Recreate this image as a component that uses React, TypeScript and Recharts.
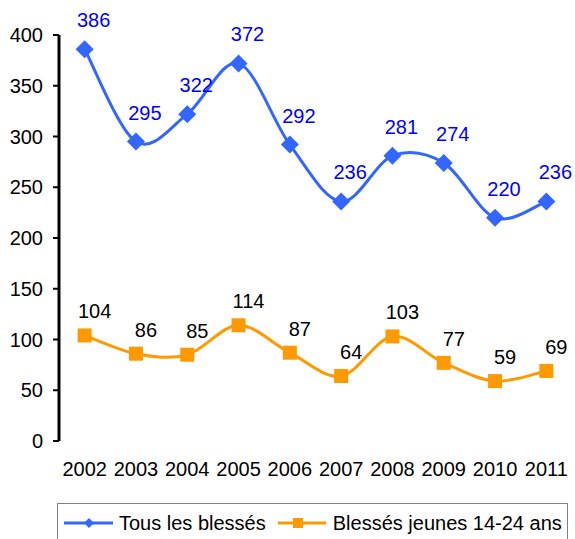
import React from 'react';
import { LineChart, Line, XAxis, YAxis, LabelList, Legend } from 'recharts';

const years = [2002, 2003, 2004, 2005, 2006, 2007, 2008, 2009, 2010, 2011];
const tousLesBlesses = [386, 295, 322, 372, 292, 236, 281, 274, 220, 236];
const blessesJeunes = [104, 86, 85, 114, 87, 64, 103, 77, 59, 69];
const yTicks = [0, 50, 100, 150, 200, 250, 300, 350, 400];
const boundaryTicks = [2001.5, 2002.5, 2003.5, 2004.5, 2005.5, 2006.5, 2007.5, 2008.5, 2009.5, 2010.5, 2011.5];
const seriesNames = ['Tous les blessés', 'Blessés jeunes 14-24 ans'];

const data = years.map((year, i) => ({ year, tous: tousLesBlesses[i], jeunes: blessesJeunes[i] }));

const FONT = '"Liberation Sans", Arial, sans-serif';
const FS = 20;
const BLUE = '#3366FF';
const ORANGE = '#FF9900';

const excelSmooth = (context: any) => {
  let pts: number[][] = [];
  return {
    areaStart() {},
    areaEnd() {},
    lineStart() {
      pts = [];
    },
    point(x: number, y: number) {
      pts.push([+x, +y]);
    },
    lineEnd() {
      const n = pts.length;
      if (n === 0) return;
      context.moveTo(pts[0][0], pts[0][1]);
      for (let i = 0; i < n - 1; i++) {
        const p0 = pts[Math.max(i - 1, 0)];
        const p1 = pts[i];
        const p2 = pts[i + 1];
        const p3 = pts[Math.min(i + 2, n - 1)];
        context.bezierCurveTo(
          p1[0] + (p2[0] - p0[0]) / 6,
          p1[1] + (p2[1] - p0[1]) / 6,
          p2[0] - (p3[0] - p1[0]) / 6,
          p2[1] - (p3[1] - p1[1]) / 6,
          p2[0],
          p2[1]
        );
      }
    },
  };
};

const Diamond = (props: any) => {
  const { cx, cy } = props;
  if (cx == null || cy == null) return null;
  const r = 9;
  return <polygon points={`${cx},${cy - r} ${cx + r},${cy} ${cx},${cy + r} ${cx - r},${cy}`} fill={BLUE} />;
};

const Square = (props: any) => {
  const { cx, cy } = props;
  if (cx == null || cy == null) return null;
  const h = 7;
  return <rect x={cx - h} y={cy - h} width={2 * h} height={2 * h} fill={ORANGE} />;
};

const makeLabel = (color: string, dx: number, dy: number) => (props: any) => {
  const { x, y, value } = props;
  return (
    <text x={x + dx} y={y + dy} textAnchor="middle" dominantBaseline="central" fill={color} fontSize={FS} fontFamily={FONT}>
      {value}
    </text>
  );
};

const renderLegend = () => (
  <div
    style={{
      border: '1px solid #808080',
      height: 40,
      boxSizing: 'border-box',
      display: 'flex',
      alignItems: 'center',
      fontSize: FS,
      fontFamily: FONT,
      color: '#000',
      paddingLeft: 6,
    }}
  >
    <svg width={49} height={14} style={{ display: 'block' }}>
      <line x1={0} y1={7} x2={49} y2={7} stroke={BLUE} strokeWidth={3} />
      <polygon points="25,2 30,7 25,12 20,7" fill={BLUE} />
    </svg>
    <span style={{ marginLeft: 6, whiteSpace: 'nowrap' }}>{seriesNames[0]}</span>
    <svg width={48} height={14} style={{ display: 'block', marginLeft: 12 }}>
      <line x1={0} y1={7} x2={48} y2={7} stroke={ORANGE} strokeWidth={3} />
      <rect x={15} y={2} width={10} height={10} fill={ORANGE} />
    </svg>
    <span style={{ marginLeft: 7, whiteSpace: 'nowrap' }}>{seriesNames[1]}</span>
  </div>
);

export default function App() {
  return (
    <div style={{ position: 'absolute', left: 0, top: 0, width: 575, height: 539, background: '#fff' }}>
      <LineChart width={575} height={539} data={data} margin={{ top: 35, right: 3, left: 0, bottom: 28 }}>
        <XAxis
          xAxisId="b"
          dataKey="year"
          type="number"
          domain={[2001.5, 2011.5]}
          allowDataOverflow
          ticks={boundaryTicks}
          tick={false}
          tickSize={5}
          height={0}
          axisLine={{ stroke: '#000', strokeWidth: 1 }}
          tickLine={{ stroke: '#000', strokeWidth: 1 }}
        />
        <XAxis
          xAxisId="l"
          dataKey="year"
          type="number"
          domain={[2001.5, 2011.5]}
          allowDataOverflow
          ticks={years}
          interval={0}
          axisLine={false}
          tickLine={false}
          tickSize={0}
          tickMargin={21}
          height={30}
          tick={{ fill: '#000', fontSize: FS, fontFamily: FONT }}
        />
        <YAxis
          domain={[0, 400]}
          ticks={yTicks}
          width={59}
          tickSize={6}
          tickMargin={10}
          axisLine={{ stroke: '#000', strokeWidth: 3 }}
          tickLine={{ stroke: '#000', strokeWidth: 2 }}
          tick={{ fill: '#000', fontSize: FS, fontFamily: FONT }}
          interval={0}
        />
        <Legend
          verticalAlign="bottom"
          content={renderLegend}
          wrapperStyle={{ left: 57, top: 503, width: 511, height: 40 }}
        />
        <Line
          xAxisId="l"
          dataKey="tous"
          name={seriesNames[0]}
          type={excelSmooth as any}
          stroke={BLUE}
          strokeWidth={3}
          dot={<Diamond />}
          activeDot={false}
          isAnimationActive={false}
        >
          <LabelList dataKey="tous" content={makeLabel('#0000FF', 9, -29)} />
        </Line>
        <Line
          xAxisId="l"
          dataKey="jeunes"
          name={seriesNames[1]}
          type={excelSmooth as any}
          stroke={ORANGE}
          strokeWidth={3}
          dot={<Square />}
          activeDot={false}
          isAnimationActive={false}
        >
          <LabelList dataKey="jeunes" content={makeLabel('#000', 10, -24)} />
        </Line>
      </LineChart>
    </div>
  );
}
